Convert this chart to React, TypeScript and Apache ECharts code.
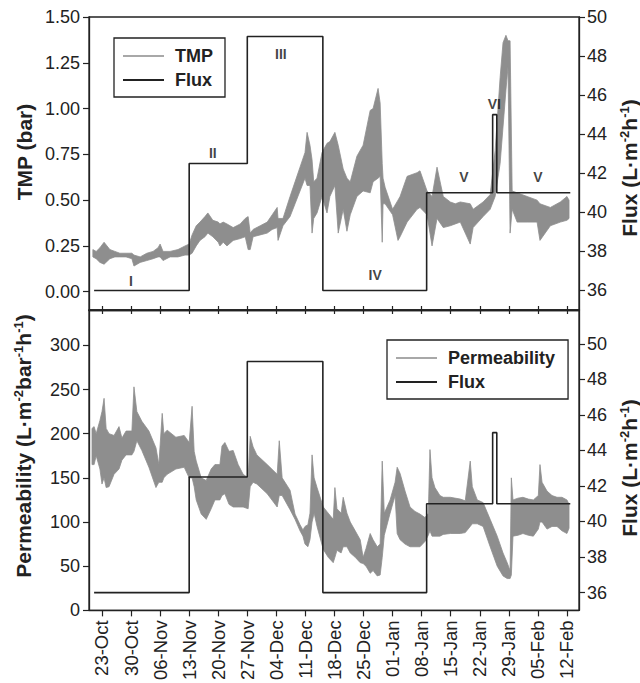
import React, { useEffect, useRef } from "react";
import * as echarts from "echarts";

const FONT = "Liberation Sans, Arial, Helvetica, sans-serif";
const INK = "#222";
const BAND = "#8e8e8e";
const LEGEND_GRAY = "#a8a8a8";

// x positions are days counted from 23-Oct
const tickDays = [0, 7, 14, 21, 28, 35, 42, 49, 56, 63, 70, 77, 84, 91, 98, 105, 112];
const tickLabels = ["23-Oct", "30-Oct", "06-Nov", "13-Nov", "20-Nov", "27-Nov", "04-Dec", "11-Dec", "18-Dec", "25-Dec", "01-Jan", "08-Jan", "15-Jan", "22-Jan", "29-Jan", "05-Feb", "12-Feb"];

const tmpTicks = [0, 0.25, 0.5, 0.75, 1.0, 1.25, 1.5];
const fluxTicks = [36, 38, 40, 42, 44, 46, 48, 50];
const permTicks = [0, 50, 100, 150, 200, 250, 300];

// Flux set-point steps (start day of each phase, level)
const fluxDays = [-1.9, 21, 35, 53.2, 78.2, 94.1, 95.1, 112.8];
const fluxLevels = [36, 42.5, 49, 36, 41, 45, 41, 41];

// phase annotations (day, flux position)
const phaseNames = ["I", "II", "III", "IV", "V", "VI", "V"];
const phaseDays = [7, 26.7, 43.1, 65.8, 87.2, 94.5, 105];
const phaseFlux = [36.46, 43.05, 48.1, 36.8, 41.8, 45.55, 41.8];

// TMP envelope (lower / upper of the daily oscillation band)
const tmpDays = [-2.2, -1.4, -0.5, 0.5, 1.9, 3.1, 4.3, 5.8, 7.2, 7.7, 9.2, 10.8, 12.3, 13.5, 14.0, 14.7, 16.4, 18.3, 20.0, 21.0, 21.7, 22.7, 23.6, 24.8, 25.5, 26.7, 28.0, 28.4, 29.2, 30.1, 31.6, 33.3, 34.5, 35.2, 35.7, 36.4, 38.1, 39.8, 41.0, 42.2, 42.4, 43.6, 45.3, 46.5, 47.7, 48.9, 49.4, 50.1, 50.6, 51.0, 51.8, 53.0, 54.2, 54.9, 56.1, 56.9, 58.1, 59.0, 59.8, 61.4, 62.9, 64.6, 65.3, 66.5, 67.0, 67.5, 67.7, 68.2, 70.0, 71.3, 71.8, 73.5, 75.9, 76.6, 78.3, 79.5, 80.7, 82.2, 83.9, 85.1, 86.3, 88.7, 89.4, 91.8, 93.5, 94.7, 95.9, 96.6, 97.3, 97.8, 98.3, 98.8, 100.0, 102.4, 104.8, 105.5, 108.0, 110.4, 112.0, 112.5];
const tmpLow = [0.19, 0.18, 0.16, 0.15, 0.18, 0.19, 0.19, 0.19, 0.18, 0.14, 0.16, 0.17, 0.18, 0.19, 0.19, 0.17, 0.19, 0.19, 0.20, 0.20, 0.21, 0.25, 0.28, 0.30, 0.32, 0.30, 0.27, 0.25, 0.27, 0.25, 0.28, 0.29, 0.30, 0.23, 0.23, 0.30, 0.31, 0.32, 0.34, 0.35, 0.28, 0.36, 0.41, 0.48, 0.55, 0.62, 0.58, 0.58, 0.32, 0.40, 0.43, 0.52, 0.43, 0.52, 0.58, 0.32, 0.45, 0.33, 0.42, 0.52, 0.55, 0.54, 0.60, 0.62, 0.63, 0.27, 0.48, 0.48, 0.42, 0.28, 0.30, 0.38, 0.45, 0.46, 0.42, 0.25, 0.40, 0.35, 0.36, 0.37, 0.38, 0.26, 0.35, 0.41, 0.45, 0.52, 0.70, 0.90, 1.10, 1.23, 0.32, 0.45, 0.38, 0.38, 0.38, 0.28, 0.36, 0.38, 0.39, 0.40];
const tmpHigh = [0.23, 0.22, 0.24, 0.27, 0.23, 0.22, 0.21, 0.21, 0.21, 0.20, 0.19, 0.21, 0.22, 0.24, 0.26, 0.22, 0.22, 0.23, 0.25, 0.26, 0.31, 0.36, 0.38, 0.41, 0.43, 0.39, 0.38, 0.37, 0.38, 0.37, 0.35, 0.37, 0.40, 0.41, 0.32, 0.34, 0.36, 0.38, 0.42, 0.46, 0.40, 0.40, 0.52, 0.60, 0.68, 0.76, 0.87, 0.80, 0.72, 0.60, 0.62, 0.76, 0.81, 0.82, 0.87, 0.80, 0.67, 0.62, 0.60, 0.74, 0.80, 0.99, 1.00, 1.11, 1.03, 0.70, 0.62, 0.57, 0.45, 0.50, 0.52, 0.63, 0.65, 0.66, 0.55, 0.52, 0.68, 0.52, 0.49, 0.48, 0.49, 0.48, 0.45, 0.49, 0.53, 0.77, 1.17, 1.36, 1.40, 1.37, 1.37, 0.55, 0.54, 0.52, 0.50, 0.48, 0.46, 0.49, 0.52, 0.50];

// Permeability envelope
const permDays = [-2.4, -1.9, -1.4, -0.5, 0, 0.5, 1.0, 1.7, 2.9, 4.1, 4.8, 5.8, 7.2, 7.7, 8.4, 9.6, 11.3, 13.0, 13.7, 14.5, 14.9, 15.7, 17.8, 19.8, 21.0, 21.7, 22.2, 22.7, 23.9, 25.1, 26.3, 27.2, 28.4, 28.9, 29.6, 30.6, 31.6, 32.8, 34.0, 35.2, 35.7, 36.4, 37.3, 39.8, 42.2, 42.7, 43.4, 45.3, 46.5, 47.7, 48.4, 48.9, 49.6, 50.1, 50.6, 51.1, 51.8, 53.3, 54.5, 55.7, 56.1, 56.6, 57.6, 58.1, 59.0, 59.8, 61.0, 62.2, 62.9, 63.6, 64.6, 65.3, 66.3, 67.0, 67.5, 68.0, 69.4, 70.6, 71.1, 71.8, 73.0, 74.2, 75.4, 76.6, 77.8, 78.6, 79.0, 79.5, 80.2, 81.4, 82.2, 83.9, 86.3, 87.5, 88.7, 89.2, 90.4, 91.8, 93.5, 95.2, 96.6, 97.6, 98.3, 98.6, 99.0, 100.2, 101.4, 102.7, 103.9, 105.1, 105.5, 106.0, 107.2, 108.4, 109.6, 110.8, 112.0, 112.5];
const permLow = [165, 165, 175, 160, 143, 150, 139, 140, 154, 160, 170, 176, 176, 180, 192, 181, 162, 139, 145, 145, 150, 154, 160, 162, 150, 150, 140, 125, 109, 103, 115, 125, 125, 130, 132, 120, 117, 117, 117, 115, 140, 145, 143, 132, 117, 130, 130, 114, 103, 90, 84, 75, 72, 80, 100, 110, 95, 69, 60, 54, 60, 68, 65, 72, 72, 65, 60, 54, 53, 50, 42, 45, 39, 40, 60, 85, 110, 130, 87, 80, 75, 72, 72, 72, 78, 85, 90, 84, 84, 84, 86, 87, 87, 88, 95, 98, 98, 95, 72, 50, 39, 36, 36, 40, 84, 85, 87, 85, 84, 92, 100, 100, 92, 95, 95, 90, 87, 93];
const permHigh = [206, 208, 200, 215, 225, 240, 206, 200, 198, 208, 195, 203, 203, 253, 225, 214, 203, 184, 165, 223, 200, 204, 196, 198, 190, 231, 180, 169, 150, 147, 160, 165, 165, 186, 190, 180, 181, 165, 154, 150, 197, 185, 176, 165, 154, 192, 150, 136, 109, 97, 91, 95, 97, 110, 176, 150, 139, 117, 110, 103, 139, 115, 110, 128, 110, 100, 90, 80, 60, 70, 87, 80, 72, 75, 169, 110, 125, 145, 162, 155, 135, 117, 112, 109, 105, 110, 182, 150, 139, 130, 128, 128, 126, 124, 169, 140, 125, 122, 103, 84, 65, 54, 45, 150, 125, 127, 128, 126, 125, 130, 165, 145, 135, 130, 128, 128, 125, 120];

const X_MIN = -3.13;
const X_MAX = 114.9;

function bandSeries(name: string, days: number[], low: number[], high: number[], xi: number, yi: number) {
  return {
    type: "custom",
    name,
    xAxisIndex: xi,
    yAxisIndex: yi,
    silent: true,
    z: 2,
    itemStyle: { color: BAND },
    data: [[days[0], low[0]]],
    renderItem: (_params: any, api: any) => {
      const pts: number[][] = [];
      for (let i = 0; i < days.length; i++) pts.push(api.coord([days[i], high[i]]));
      for (let i = days.length - 1; i >= 0; i--) pts.push(api.coord([days[i], low[i]]));
      return {
        type: "polygon",
        shape: { points: pts },
        style: { fill: BAND, stroke: BAND, lineWidth: 0.8 },
      };
    },
  };
}

// legend-only line entry (no data) so the legend shows a thin gray line
function legendLine(name: string, xi: number, yi: number) {
  return {
    type: "line",
    name,
    xAxisIndex: xi,
    yAxisIndex: yi,
    symbol: "none",
    color: LEGEND_GRAY,
    itemStyle: { color: LEGEND_GRAY },
    lineStyle: { color: LEGEND_GRAY, width: 1.4 },
    data: [],
  };
}

function fluxSeries(xi: number, yi: number) {
  return {
    type: "line",
    name: "Flux",
    xAxisIndex: xi,
    yAxisIndex: yi,
    step: "end",
    symbol: "none",
    z: 4,
    color: INK,
    itemStyle: { color: INK },
    lineStyle: { color: INK, width: 1.6 },
    data: fluxDays.map((d, i) => [d, fluxLevels[i]]),
  };
}

const tickLabelStyle = { fontSize: 18, color: INK, fontFamily: FONT };
const axisLineStyle = { onZero: false, lineStyle: { color: INK, width: 1.3 } };

function yAxis(gridIndex: number, position: string, min: number, max: number, ticks: number[], fmt?: (v: number) => string) {
  return {
    type: "value",
    gridIndex,
    position,
    min,
    max,
    axisLine: { show: true, ...axisLineStyle },
    axisTick: { show: true, customValues: ticks, length: 6, lineStyle: { color: INK, width: 1.2 } },
    axisLabel: { show: true, customValues: ticks, margin: position === "left" ? 9 : 8, ...tickLabelStyle, formatter: fmt },
    splitLine: { show: false },
  };
}

function legendCfg(left: number, top: number, first: string, padRight: number) {
  return {
    left,
    top,
    orient: "vertical",
    selectedMode: false,
    itemWidth: 41,
    itemHeight: 2,
    itemGap: 6,
    padding: [9, padRight, 8, 8],
    borderColor: INK,
    borderWidth: 1.3,
    itemStyle: { opacity: 0 },
    data: [first, "Flux"],
    textStyle: { fontSize: 18, fontWeight: "bold", color: INK, fontFamily: FONT, lineHeight: 18, padding: [0, 0, 0, 6] },
  };
}

const titleRich = {
  s: { fontSize: 13, fontWeight: "bold", fontFamily: FONT, fill: INK, verticalAlign: "top", lineHeight: 12 },
  b: { fontSize: 21, fontWeight: "bold", fontFamily: FONT, fill: INK, lineHeight: 22 },
};

function title(x: number, y: number, text: string) {
  return {
    type: "text",
    x,
    y,
    rotation: Math.PI / 2,
    z: 10,
    style: {
      text,
      rich: titleRich,
      fontSize: 21,
      fontWeight: "bold",
      fontFamily: FONT,
      fill: INK,
      align: "center",
      verticalAlign: "middle",
    },
  };
}

export default function App() {
  const ref = useRef<HTMLDivElement>(null);
  useEffect(() => {
    document.body.style.margin = "0";
    const chart = echarts.init(ref.current!, null, { renderer: "svg" });
    const option: any = {
      animation: false,
      backgroundColor: "#fff",
      textStyle: { fontFamily: FONT },
      grid: [
        { left: 89, top: 17, width: 490, height: 293, show: true, borderColor: INK, borderWidth: 1.3, backgroundColor: "transparent" },
        { left: 89, top: 310, width: 490, height: 305, show: true, borderColor: INK, borderWidth: 1.3, backgroundColor: "transparent" },
      ],
      xAxis: [
        {
          type: "value", gridIndex: 0, position: "bottom", min: X_MIN, max: X_MAX,
          axisLine: { show: true, ...axisLineStyle },
          axisTick: { show: true, inside: true, customValues: tickDays, length: 4, lineStyle: { color: INK, width: 1.2 } },
          axisLabel: { show: false },
          splitLine: { show: false },
        },
        {
          type: "value", gridIndex: 1, position: "bottom", min: X_MIN, max: X_MAX,
          axisLine: { show: true, ...axisLineStyle },
          axisTick: { show: true, customValues: tickDays, length: 6, lineStyle: { color: INK, width: 1.2 } },
          axisLabel: {
            show: true, customValues: tickDays, rotate: 90, margin: 10, ...tickLabelStyle, fontSize: 18.5,
            formatter: (v: number) => {
              const i = tickDays.indexOf(Math.round(v));
              return i >= 0 ? tickLabels[i] : "";
            },
          },
          splitLine: { show: false },
        },
        {
          type: "value", gridIndex: 1, position: "top", min: X_MIN, max: X_MAX,
          axisLine: { show: true, ...axisLineStyle },
          axisTick: { show: true, inside: true, customValues: tickDays, length: 4, lineStyle: { color: INK, width: 1.2 } },
          axisLabel: { show: false },
          splitLine: { show: false },
        },
      ],
      yAxis: [
        yAxis(0, "left", -0.1, 1.5, tmpTicks, (v: number) => v.toFixed(2)),
        yAxis(0, "right", 35, 50, fluxTicks),
        yAxis(1, "left", 0, 340, permTicks),
        yAxis(1, "right", 35, 51.9, fluxTicks),
      ],
      legend: [legendCfg(114, 38, "TMP", 12), legendCfg(387, 340, "Permeability", 13)],
      graphic: [
        title(24, 152, "TMP (bar)"),
        title(629, 168, "{b|Flux (L·m}{s|-2}{b|h}{s|-1}{b|)}"),
        title(23, 446, "{b|Permeability (L·m}{s|-2}{b|bar}{s|-1}{b|h}{s|-1}{b|)}"),
        title(629, 468, "{b|Flux (L·m}{s|-2}{b|h}{s|-1}{b|)}"),
      ],
      series: [
        bandSeries("TMP band", tmpDays, tmpLow, tmpHigh, 0, 0),
        legendLine("TMP", 0, 0),
        fluxSeries(0, 1),
        bandSeries("Permeability band", permDays, permLow, permHigh, 1, 2),
        legendLine("Permeability", 1, 2),
        fluxSeries(1, 3),
        {
          type: "scatter",
          name: "phases",
          xAxisIndex: 0,
          yAxisIndex: 1,
          symbolSize: 0,
          silent: true,
          z: 6,
          data: phaseNames.map((n, i) => [phaseDays[i], phaseFlux[i], n]),
          label: {
            show: true,
            position: "inside",
            formatter: (p: any) => p.data[2],
            fontSize: 14,
            fontWeight: "bold",
            color: "#111",
            fontFamily: FONT,
          },
        },
      ],
    };
    chart.setOption(option);
    return () => chart.dispose();
  }, []);
  return <div ref={ref} style={{ width: 640, height: 683 }} />;
}
